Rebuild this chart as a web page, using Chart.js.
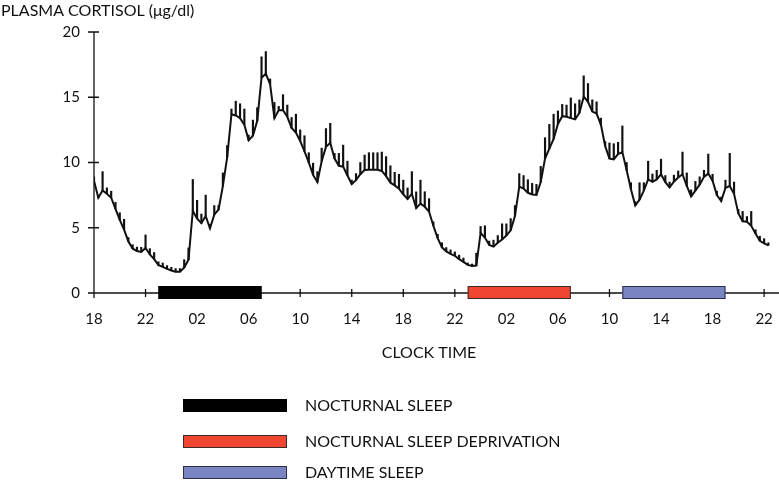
<!DOCTYPE html>
<html>
<head>
<meta charset="utf-8">
<script src="https://cdn.jsdelivr.net/npm/chart.js@4.4.1/dist/chart.umd.min.js"></script>
<style>
  html, body { margin: 0; padding: 0; background: #fff; }
  #wrap { position: relative; width: 779px; height: 482px; }
</style>
</head>
<body>
<div id="wrap"><canvas id="cortisol"></canvas></div>
<script>
// samples every 20 min, starting at 18:00 (hour 0)
const stepHours = 1 / 3;

// mean plasma cortisol (µg/dl)
const cortisolMean = [
  8.6, 7.3, 7.85, 7.6, 7.3, 6.45, 5.6, 4.85, 3.95, 3.4,
  3.22, 3.15, 3.45, 2.95, 2.6, 2.14, 2.0, 1.85, 1.72, 1.62,
  1.62, 1.95, 2.55, 6.3, 5.7, 5.35, 5.9, 4.96, 6.0, 6.4,
  8.2, 10.4, 13.7, 13.6, 13.4, 12.9, 11.7, 12.05, 13.2, 16.5,
  16.8, 16.0, 13.4, 14.0, 14.0, 13.5, 12.65, 12.3, 11.65, 10.85,
  10.0, 9.05, 8.5, 10.1, 11.2, 11.5, 10.3, 9.75, 9.68, 9.0,
  8.35, 8.65, 9.1, 9.42, 9.45, 9.45, 9.45, 9.35, 8.95, 8.45,
  8.25, 8.0, 7.55, 7.2, 7.6, 6.5, 6.85, 6.61, 6.23, 5.15,
  4.2, 3.5, 3.18, 3.0, 2.85, 2.6, 2.38, 2.15, 2.07, 2.1,
  4.6, 4.25, 3.68, 3.55, 3.85, 4.1, 4.4, 4.8, 5.9, 8.15,
  8.0, 7.68, 7.55, 7.52, 8.5, 10.3, 11.07, 11.8, 12.95, 13.55,
  13.5, 13.4, 13.3, 13.8, 15.04, 14.65, 13.9, 13.75, 12.9, 11.25,
  10.3, 10.24, 10.65, 10.8, 9.4, 7.95, 6.7, 7.15, 7.85, 8.7,
  8.52, 8.7, 9.1, 8.5, 8.1, 8.53, 8.85, 9.1, 8.2, 7.4,
  7.85, 8.3, 8.9, 9.15, 8.6, 7.5, 7.05, 8.05, 8.2, 7.6,
  6.1, 5.5, 5.46, 5.15, 4.55, 4.0, 3.81, 3.65
];

// SEM, drawn upward from the mean
const cortisolSem = [
  0.3, 0.2, 1.45, 0.45, 0.5, 0.5, 0.55, 0.8, 0.3, 0.3,
  0.3, 0.35, 1.0, 0.45, 0.5, 0.25, 0.3, 0.25, 0.25, 0.25,
  0.25, 0.6, 0.9, 2.4, 1.4, 0.7, 1.6, 0.3, 0.7, 0.3,
  1.0, 0.9, 0.4, 1.1, 1.1, 1.2, 0.4, 1.2, 1.0, 1.6,
  1.7, 0.4, 1.2, 0.3, 1.2, 0.9, 0.8, 1.4, 0.85, 1.2,
  0.75, 0.9, 0.8, 1.0, 1.4, 1.5, 0.4, 0.95, 1.65, 1.1,
  0.3, 0.5, 0.9, 1.15, 1.3, 1.3, 1.3, 1.45, 1.5, 1.3,
  1.0, 1.1, 1.1, 0.85, 1.7, 1.25, 1.8, 1.15, 1.0, 0.3,
  0.3, 0.35, 0.3, 0.3, 0.3, 0.3, 0.3, 0.15, 0.15, 0.95,
  0.5, 0.9, 0.3, 0.5, 0.55, 1.2, 0.9, 0.9, 0.8, 1.0,
  1.0, 1.0, 0.85, 0.8, 1.2, 1.6, 1.85, 1.9, 1.0, 0.9,
  0.9, 1.55, 1.2, 1.0, 1.6, 1.4, 0.9, 0.9, 0.5, 0.35,
  1.2, 1.2, 0.9, 2.0, 0.6, 0.5, 0.3, 1.3, 0.6, 1.4,
  0.6, 0.7, 1.15, 0.5, 0.4, 0.5, 0.5, 1.7, 1.0, 0.5,
  0.7, 0.6, 0.5, 1.5, 0.5, 0.3, 0.3, 0.6, 2.5, 0.9,
  0.3, 0.75, 0.4, 1.1, 0.3, 0.35, 0.35, 0.2
];

const xTickHours = [0, 4, 8, 12, 16, 20, 24, 28, 32, 36, 40, 44, 48, 52];
const xTickLabels = ['18', '22', '02', '06', '10', '14', '18', '22', '02', '06', '10', '14', '18', '22'];
const yTicks = [0, 5, 10, 15, 20];

// sleep conditions (hours after 18:00 on day 1)
const periodNames = ['NOCTURNAL SLEEP', 'NOCTURNAL SLEEP DEPRIVATION', 'DAYTIME SLEEP'];
const periodStart = [5, 29, 41];
const periodEnd = [13, 37, 49];
const periodColors = ['#000000', '#EF4531', '#7B84C3'];
const periodEdges = ['#000000', '#3a2a28', '#2c2f4a'];

const FONT = 'Lato, "Open Sans", sans-serif';

const meanPoints = cortisolMean.map((v, i) => ({ x: i * stepHours, y: v }));
const semBars = cortisolMean.map((v, i) => ({ x: i * stepHours, y: [v, v + cortisolSem[i]] }));

// axes with ticks crossing the lines, sleep bars on the x axis, titles and legend
const decorPlugin = {
  id: 'decor',
  beforeDatasetsDraw(chart) {
    const { ctx, chartArea, scales } = chart;
    const x = scales.x, y = scales.y;
    const y0 = y.getPixelForValue(0);
    ctx.save();
    ctx.strokeStyle = '#111';
    ctx.lineWidth = 1.3;
    ctx.beginPath();
    ctx.moveTo(chartArea.left, y.getPixelForValue(20));
    ctx.lineTo(chartArea.left, y0 + 5);
    ctx.moveTo(chartArea.left - 6, y0);
    ctx.lineTo(chartArea.right + 2, y0);
    yTicks.forEach(v => {
      const py = y.getPixelForValue(v);
      ctx.moveTo(chartArea.left - 6, py);
      ctx.lineTo(chartArea.left + 5, py);
    });
    xTickHours.forEach(h => {
      const px = x.getPixelForValue(h);
      ctx.moveTo(px, y0 - 4);
      ctx.lineTo(px, y0 + 4);
    });
    ctx.stroke();

    periodStart.forEach((s, i) => {
      const x1 = x.getPixelForValue(s);
      const x2 = x.getPixelForValue(periodEnd[i]);
      ctx.fillStyle = periodColors[i];
      ctx.fillRect(x1, y0 - 7, x2 - x1, 13);
      ctx.strokeStyle = periodEdges[i];
      ctx.lineWidth = 1;
      ctx.strokeRect(x1 + 0.5, y0 - 6.5, x2 - x1 - 1, 12);
    });
    ctx.restore();
  },
  afterDraw(chart) {
    const { ctx } = chart;
    ctx.save();
    ctx.fillStyle = '#111';
    ctx.textBaseline = 'middle';
    ctx.font = '16px ' + FONT;
    ctx.textAlign = 'left';
    ctx.fillText('PLASMA CORTISOL (\u03bcg/dl)', 1, 11);
    ctx.textAlign = 'center';
    ctx.fillText('CLOCK TIME', 429, 353);

    const rowY = [406, 442, 473];
    ctx.textAlign = 'left';
    periodNames.forEach((name, i) => {
      ctx.fillStyle = periodColors[i];
      ctx.fillRect(183, rowY[i] - 7, 104, 13);
      ctx.strokeStyle = periodEdges[i];
      ctx.lineWidth = 1;
      ctx.strokeRect(183.5, rowY[i] - 6.5, 103, 12);
      ctx.fillStyle = '#111';
      ctx.fillText(name, 305, rowY[i]);
    });
    ctx.restore();
  }
};

new Chart(document.getElementById('cortisol'), {
  type: 'line',
  data: {
    datasets: [
      {
        type: 'line',
        data: meanPoints,
        borderColor: '#111',
        borderWidth: 2,
        pointRadius: 0,
        tension: 0,
        order: 1
      },
      {
        type: 'bar',
        data: semBars,
        backgroundColor: '#111',
        barThickness: 1.5,
        grouped: false,
        order: 2
      }
    ]
  },
  options: {
    responsive: true,
    maintainAspectRatio: false,
    animation: false,
    layout: { padding: { left: 0, right: 2, top: 32, bottom: 0 } },
    plugins: { legend: { display: false }, tooltip: { enabled: false } },
    scales: {
      x: {
        type: 'linear',
        min: 0,
        max: 53,
        offset: false,
        grid: { display: false, drawTicks: true, tickLength: 14 },
        border: { display: false },
        afterBuildTicks: s => { s.ticks = xTickHours.map(v => ({ value: v })); },
        afterFit: s => { s.height = 189; },
        ticks: {
          autoSkip: false,
          maxRotation: 0,
          padding: 3,
          color: '#111',
          font: { family: FONT, size: 15 },
          callback: v => xTickLabels[xTickHours.indexOf(v)]
        }
      },
      y: {
        min: 0,
        max: 20,
        grid: { display: false, drawTicks: false },
        border: { display: false },
        afterBuildTicks: s => { s.ticks = yTicks.map(v => ({ value: v })); },
        afterFit: s => { s.width = 94; },
        ticks: {
          padding: 14,
          color: '#111',
          font: { family: FONT, size: 15 }
        }
      }
    }
  },
  plugins: [decorPlugin]
});
</script>
</body>
</html>
